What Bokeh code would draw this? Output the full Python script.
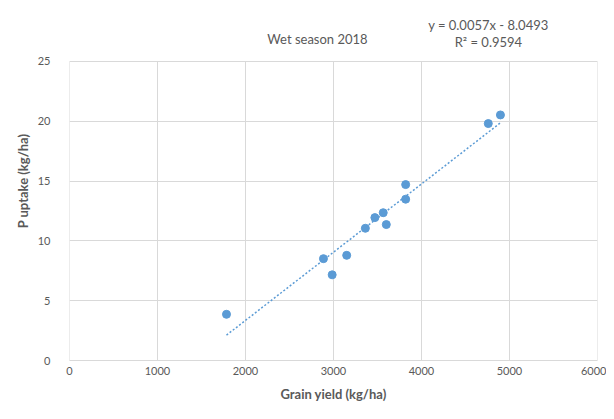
from bokeh.plotting import figure
from bokeh.models import Label, FixedTicker, Range1d
from bokeh.embed import file_html
from bokeh.resources import INLINE

# data
grain_yield = [1784, 2886, 2985, 3150, 3362, 3470, 3565, 3600, 3820, 3820, 4759, 4897]
p_uptake = [3.86, 8.51, 7.16, 8.79, 11.05, 11.94, 12.35, 11.36, 13.48, 14.70, 19.80, 20.52]
x_ticks = [0, 1000, 2000, 3000, 4000, 5000, 6000]
y_ticks = [0, 5, 10, 15, 20, 25]
slope = 0.0057
intercept = -8.0493
r2 = 0.9594
title_text = "Wet season 2018"

FONT = "Lato"
GRAY = "#595959"
GRID = "#d9d9d9"
BLUE = "#5b9bd5"

# frame extends above the last tick so the header texts sit inside it
p = figure(width=606, height=411, output_backend="svg", toolbar_location=None,
           x_range=Range1d(0, 6000), y_range=Range1d(0, 30),
           min_border_left=69, min_border_right=9, min_border_top=1, min_border_bottom=51)
p.outline_line_color = None
p.background_fill_color = "white"
p.border_fill_color = "white"

p.xaxis.ticker = FixedTicker(ticks=x_ticks)
p.yaxis.ticker = FixedTicker(ticks=y_ticks)
p.yaxis.bounds = (y_ticks[0], y_ticks[-1])
for ax in (p.xaxis, p.yaxis):
    ax.major_tick_line_color = None
    ax.minor_tick_line_color = None
    ax.major_label_text_font = FONT
    ax.major_label_text_font_size = "11px"
    ax.major_label_text_color = GRAY
    ax.axis_label_text_font = FONT
    ax.axis_label_text_font_size = "13px"
    ax.axis_label_text_font_style = "bold"
    ax.axis_label_text_color = GRAY
p.xaxis.axis_line_color = GRID
p.yaxis.axis_line_color = None
p.xaxis.axis_label = "Grain yield (kg/ha)"
p.yaxis.axis_label = "P uptake (kg/ha)"
p.xaxis.major_label_standoff = 0
p.yaxis.major_label_standoff = 13
p.xaxis.axis_label_standoff = 8
p.yaxis.axis_label_standoff = 4

p.xgrid.grid_line_color = None
p.ygrid.grid_line_color = GRID
# vertical gridlines only up to the top tick
p.segment(x0=x_ticks, y0=[y_ticks[0]] * len(x_ticks), x1=x_ticks, y1=[y_ticks[-1]] * len(x_ticks),
          line_color=GRID, line_width=1)

# trendline
x0, x1 = min(grain_yield), max(grain_yield)
p.line([x0, x1], [slope * x0 + intercept, slope * x1 + intercept],
       line_color=BLUE, line_width=1.5, line_dash="2 2")

p.scatter(grain_yield, p_uptake, size=8, fill_color=BLUE, line_color=BLUE)

title = Label(x=2818, y=26.9, text=title_text, text_align="center", text_baseline="middle",
              text_font=FONT, text_font_size="13px", text_color=GRAY)
eq = Label(x=4760, y=28.05, text=f"y = {slope}x - {abs(intercept)}", text_align="center",
           text_baseline="middle", text_font=FONT, text_font_size="13px", text_color=GRAY)
r2l = Label(x=4760, y=26.65, text=f"R² = {r2}", text_align="center",
            text_baseline="middle", text_font=FONT, text_font_size="13px", text_color=GRAY)
p.add_layout(title)
p.add_layout(eq)
p.add_layout(r2l)

open("out.html", "w").write(file_html(p, INLINE))
